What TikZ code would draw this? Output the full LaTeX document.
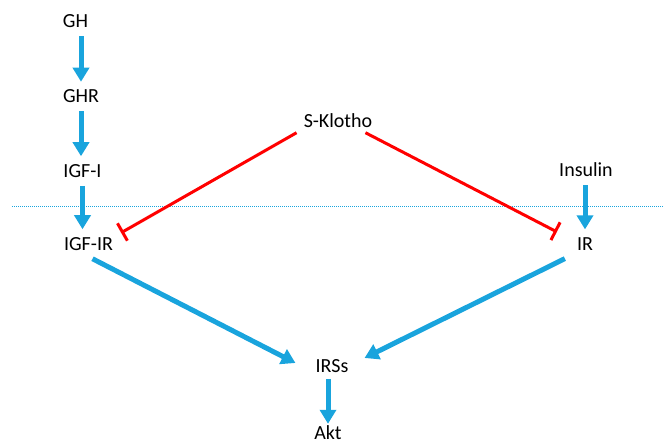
\documentclass[tikz,border=0pt]{standalone}
\usepackage{fontspec}
\setmainfont{Carlito}
\usetikzlibrary{arrows.meta}
\tikzset{>={Triangle[width=16pt,length=14pt]}}
\definecolor{sigblue}{HTML}{19A4DD}
\definecolor{inhred}{HTML}{FF0000}
\tikzset{
  mol/.style={font=\fontsize{20pt}{24pt}\selectfont, inner sep=8pt},
  act/.style={->, draw=sigblue, line width=5pt},
  inh/.style={-{Bar[width=20pt]}, draw=inhred, line width=3pt},
  membrane/.style={draw=sigblue, line width=0.8pt, dash pattern=on 1pt off 1pt}
}

\begin{document}
\begin{tikzpicture}[x=1pt,y=-1pt]
\path[use as bounding box, clip] (0,0) rectangle (663,447);

\node[mol] (gh)   at ( 75.5, 21.5) {GH};
\node[mol] (ghr)  at ( 81,   96.5) {GHR};
\node[mol] (igf)  at ( 82.5,171) {IGF-I};
\node[mol] (igfr) at ( 88.5,244) {IGF-IR};

\node[mol] (klotho) at (338,121) {S-Klotho};

\node[mol] (ins) at (586,170) {Insulin};
\node[mol] (ir)  at (585,244) {IR};

\node[mol] (irs) at (332,366) {IRSs};
\node[mol, inner sep=2pt] (akt) at (328,433) {Akt};

\draw[membrane] (12,206) -- (663,206);

\draw[act] (ghr.north |- gh.south) -- (ghr.north);
\draw[act] (ghr.south) -- (ghr.south |- igf.north);
\draw[act] (igf.south) -- (igf.south |- igfr.north);
\draw[act] (ir.north |- ins.south) -- (ir.north);

\draw[act] ([xshift=4pt]igfr.south) -- ([xshift=-12pt,yshift=3pt]irs.west);
\draw[act] ([xshift=-4pt]ir.south west) -- ([xshift=8pt,yshift=8pt]irs.east);
\draw[act] ([yshift=2pt]akt.north |- irs.south) -- (akt.north);

\draw[inh] ([xshift=1pt,yshift=3.5pt]klotho.south west) -- ([yshift=-3.5pt]igfr.north east);
\draw[inh] ([xshift=-15pt,yshift=3.5pt]klotho.south east) -- ([xshift=-12pt,yshift=-2.5pt]ir.north west);
\end{tikzpicture}
\end{document}
